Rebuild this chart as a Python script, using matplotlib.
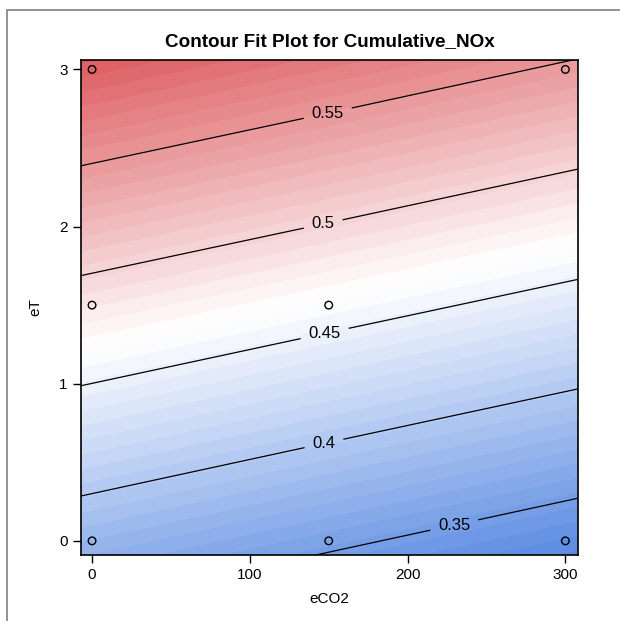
import matplotlib
matplotlib.use("Agg")
import matplotlib.pyplot as plt
import numpy as np
from matplotlib.colors import LinearSegmentedColormap, TwoSlopeNorm
from matplotlib.patches import Rectangle

plt.rcParams['font.family'] = ['Liberation Sans', 'DejaVu Sans']

# fitted surface at a coarse grid (covers the whole plot area)
eco2 = [-10, 150, 310]
et = [-0.1, 1.5, 3.1]
nox = [[0.373, 0.348, 0.323],
       [0.487, 0.4625, 0.438],
       [0.6015, 0.577, 0.552]]

# design points (circles)
pts_eco2 = [0, 150, 300, 0, 150, 0, 300]
pts_et = [0, 0, 0, 1.5, 1.5, 3, 3]

line_levels = [0.35, 0.4, 0.45, 0.5, 0.55]
label_pos = [(230, 0.08), (147, 0.62), (147, 1.34), (146, 2.04), (149, 2.74)]

X, Y = np.meshgrid(eco2, et)
Z = np.array(nox)

fig = plt.figure(figsize=(6.2, 6.21), dpi=100)
ax = fig.add_axes([81/620, 1 - 555/621, (578-81)/620, (555-60)/621])

cmap = LinearSegmentedColormap.from_list("bwr_sas", ["#5a8ae2", "#ffffff", "#dc5a5e"])
norm = TwoSlopeNorm(vmin=0.325, vcenter=0.466, vmax=0.6)
fill_levels = np.linspace(0.32, 0.61, 45)
ax.contourf(X, Y, Z, levels=fill_levels, cmap=cmap, norm=norm, extend='both')
cs = ax.contour(X, Y, Z, levels=line_levels, colors='black', linewidths=0.9)
labels = ax.clabel(cs, fmt=lambda v: f"{v:g}", fontsize=12, manual=label_pos, inline=True, inline_spacing=8)
for t in labels:
    t.set_rotation(0)

ax.scatter(pts_eco2, pts_et, s=30, facecolors='none', edgecolors='black', linewidths=1.0, zorder=5)

ax.set_xlim(-7, 308)
ax.set_ylim(-0.09, 3.06)
ax.set_xticks([0, 100, 200, 300])
ax.set_yticks([0, 1, 2, 3])
ax.tick_params(direction='out', length=6, width=1, labelsize=11, colors='black')
for s in ax.spines.values():
    s.set_linewidth(1.2)
ax.set_xlabel("eCO2", fontsize=11, labelpad=7)
ax.set_ylabel("eT", fontsize=11, labelpad=12)
ax.set_title("Contour Fit Plot for Cumulative_NOx", fontsize=13.6, fontweight='bold', pad=10)

fig.patches.append(Rectangle((7/620, -0.1), 1.2, 1.1 - 10/621, transform=fig.transFigure,
                             fill=False, edgecolor='#808080', linewidth=1.2))

fig.savefig("out.png", dpi=100)
